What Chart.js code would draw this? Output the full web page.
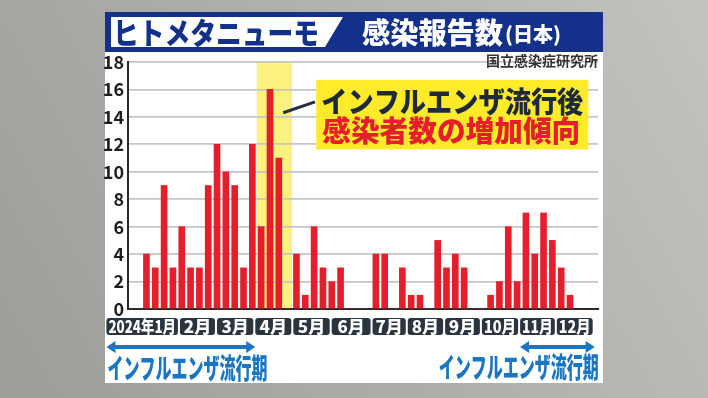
<!DOCTYPE html>
<html>
<head>
<meta charset="utf-8">
<script src="https://cdn.jsdelivr.net/npm/chart.js@4"></script>
<style>
  html, body { margin: 0; padding: 0; background: #acaca8; }
  canvas { display: block; }
</style>
</head>
<body>
<canvas id="chart" width="708" height="398"></canvas>
<script>
// 週ごとの報告数 (2024年 第1週〜第49週)
const weeks = [];
for (let w = 1; w <= 49; w++) weeks.push(w);
const reports = [4, 3, 9, 3, 6, 3, 3, 9, 12, 10, 9, 3, 12, 6, 16, 11, 0, 4, 1, 6, 3, 2, 3, 0, 0, 0, 4, 4, 0, 3, 1, 1, 0, 5, 3, 4, 3, 0, 0, 1, 2, 6, 2, 7, 4, 7, 5, 3, 1];
const yTicks = [0, 2, 4, 6, 8, 10, 12, 14, 16, 18];

// 月ラベル (週の軸上の区切り)
const months = ["2024年1月", "2月", "3月", "4月", "5月", "6月", "7月", "8月", "9月", "10月", "11月", "12月"];
const monthEdges = [-3.65, 4.68, 8.88, 13.22, 17.53, 21.88, 26.51, 30.5, 34.73, 38.9, 43.23, 47.39, 51.68];
const highlightWeeks = [13.5, 17.5];
const fluSeasons = [[0, 3], [10, 12]]; // monthEdges の区間

const FONT = '"Noto Sans CJK JP", "Noto Sans", sans-serif';
const NAVY = "#13318a";
const RED = "#e61e2b";
const BLUE = "#1a76c2";

function fitText(ctx, text, x, y, maxW, align) {
  const w = ctx.measureText(text).width;
  const s = maxW / w;
  ctx.save();
  ctx.translate(x, y);
  ctx.scale(Math.min(s, 1), 1);
  ctx.textAlign = align || "left";
  ctx.fillText(text, 0, 0);
  ctx.restore();
}

function roundRect(ctx, x, y, w, h, r) {
  ctx.beginPath();
  ctx.moveTo(x + r, y);
  ctx.lineTo(x + w - r, y);
  ctx.quadraticCurveTo(x + w, y, x + w, y + r);
  ctx.lineTo(x + w, y + h - r);
  ctx.quadraticCurveTo(x + w, y + h, x + w - r, y + h);
  ctx.lineTo(x + r, y + h);
  ctx.quadraticCurveTo(x, y + h, x, y + h - r);
  ctx.lineTo(x, y + r);
  ctx.quadraticCurveTo(x, y, x + r, y);
  ctx.closePath();
}

function arrow(ctx, x1, x2, y) {
  const hl = 9, hw = 6;
  ctx.fillStyle = BLUE;
  ctx.fillRect(x1 + hl - 1, y - 2, x2 - x1 - 2 * hl + 2, 4);
  ctx.beginPath();
  ctx.moveTo(x1, y); ctx.lineTo(x1 + hl, y - hw); ctx.lineTo(x1 + hl, y + hw); ctx.closePath();
  ctx.fill();
  ctx.beginPath();
  ctx.moveTo(x2, y); ctx.lineTo(x2 - hl, y - hw); ctx.lineTo(x2 - hl, y + hw); ctx.closePath();
  ctx.fill();
}

const backdrop = {
  id: "backdrop",
  beforeDraw(chart) {
    const ctx = chart.ctx;
    const { top, bottom } = chart.chartArea;
    const x = chart.scales.x;
    ctx.save();
    const g = ctx.createLinearGradient(0, 398, 708, 0);
    g.addColorStop(0, "#9c9c98");
    g.addColorStop(0.5, "#aeaeaa");
    g.addColorStop(1, "#c2c2be");
    ctx.fillStyle = g;
    ctx.fillRect(0, 0, 708, 398);
    // 白いパネル
    ctx.fillStyle = "#ffffff";
    ctx.fillRect(105, 12, 498, 371);
    // ヘッダー
    ctx.fillStyle = NAVY;
    ctx.fillRect(105, 12, 498, 40);
    ctx.fillStyle = "#ffffff";
    ctx.beginPath();
    ctx.moveTo(111, 17); ctx.lineTo(343, 17); ctx.lineTo(325, 47); ctx.lineTo(111, 47);
    ctx.closePath(); ctx.fill();
    ctx.fillStyle = NAVY;
    ctx.textBaseline = "middle";
    ctx.font = "900 30px " + FONT;
    fitText(ctx, "ヒトメタニューモ", 113, 33, 206);
    ctx.fillStyle = "#ffffff";
    ctx.font = "900 29px " + FONT;
    fitText(ctx, "感染報告数", 362, 33, 141);
    ctx.font = "900 20px " + FONT;
    fitText(ctx, "(日本)", 505, 34, 68);
    // 4月の強調帯
    const hx1 = x.getPixelForValue(highlightWeeks[0]);
    const hx2 = x.getPixelForValue(highlightWeeks[1]);
    ctx.fillStyle = "#fcf07e";
    ctx.fillRect(hx1, top, hx2 - hx1, bottom - top);
    ctx.restore();
  },
  afterDraw(chart) {
    const ctx = chart.ctx;
    const x = chart.scales.x, y = chart.scales.y;
    const { bottom } = chart.chartArea;
    ctx.save();
    ctx.textBaseline = "middle";
    // 出典
    ctx.fillStyle = "#333333";
    ctx.font = "bold 14px " + FONT;
    fitText(ctx, "国立感染症研究所", 598, 61, 122, "right");
    // 注記
    ctx.strokeStyle = "#263040";
    ctx.lineWidth = 3;
    ctx.beginPath();
    ctx.moveTo(x.getPixelForValue(16.5), y.getPixelForValue(14.3));
    ctx.lineTo(x.getPixelForValue(20.1), y.getPixelForValue(15.1));
    ctx.stroke();
    const bx1 = x.getPixelForValue(20.24), bx2 = x.getPixelForValue(51.07);
    const by1 = y.getPixelForValue(16.7), by2 = y.getPixelForValue(11.63);
    ctx.fillStyle = "#ffeb2a";
    ctx.fillRect(bx1, by1, bx2 - bx1, by2 - by1);
    ctx.fillStyle = "#1f2a38";
    ctx.font = "900 29px " + FONT;
    fitText(ctx, "インフルエンザ流行後", bx1 + 5, y.getPixelForValue(15.05), bx2 - bx1 - 10);
    ctx.fillStyle = RED;
    ctx.font = "900 29px " + FONT;
    fitText(ctx, "感染者数の増加傾向", bx1 + 6, y.getPixelForValue(12.96), bx2 - bx1 - 14);
    // 月ラベル
    ctx.font = "900 17px " + FONT;
    months.forEach((m, i) => {
      const l = x.getPixelForValue(monthEdges[i]) + 1;
      const r = x.getPixelForValue(monthEdges[i + 1]) - 1;
      ctx.fillStyle = "#2b3540";
      roundRect(ctx, l, bottom + 9, r - l, 17, 3);
      ctx.fill();
      ctx.fillStyle = "#ffffff";
      fitText(ctx, m, (l + r) / 2, bottom + 18, r - l - 4, "center");
    });
    // 流行期の矢印
    fluSeasons.forEach((s, i) => {
      const l = x.getPixelForValue(monthEdges[s[0]]) + 1;
      const r = x.getPixelForValue(monthEdges[s[1]]) + 1;
      arrow(ctx, l, r, bottom + 38);
      ctx.fillStyle = BLUE;
      ctx.font = "900 28px " + FONT;
      if (i === 0) fitText(ctx, "インフルエンザ流行期", l + 1, bottom + 59, 160);
      else fitText(ctx, "インフルエンザ流行期", r + 4, bottom + 58, 160, "right");
    });
    ctx.restore();
  }
};

new Chart(document.getElementById("chart"), {
  type: "bar",
  data: {
    datasets: [{
      data: weeks.map((w, i) => ({ x: w, y: reports[i] })),
      backgroundColor: RED,
      barThickness: 6
    }]
  },
  options: {
    responsive: false,
    animation: false,
    events: [],
    layout: { padding: { left: 0, right: 110, top: 62, bottom: 89 } },
    plugins: { legend: { display: false }, tooltip: { enabled: false } },
    scales: {
      x: {
        type: "linear",
        offset: false,
        min: -1.09,
        max: 52.17,
        afterFit(s) { s.height = 0; },
        ticks: { display: false },
        grid: { display: false, offset: false },
        border: { display: true, color: "#2a2a2a", width: 2 }
      },
      y: {
        min: 0,
        max: 18,
        afterFit(s) { s.width = 128; },
        afterBuildTicks(s) { s.ticks = yTicks.map(v => ({ value: v })); },
        ticks: {
          color: "#1e1e1e",
          padding: 4,
          font: { family: FONT, size: 18, weight: "bold" }
        },
        grid: { color: "#c6c6c6", lineWidth: 1.8, drawTicks: false },
        border: { display: true, color: "#2a2a2a", width: 2 }
      }
    }
  },
  plugins: [backdrop]
});
</script>
</body>
</html>
